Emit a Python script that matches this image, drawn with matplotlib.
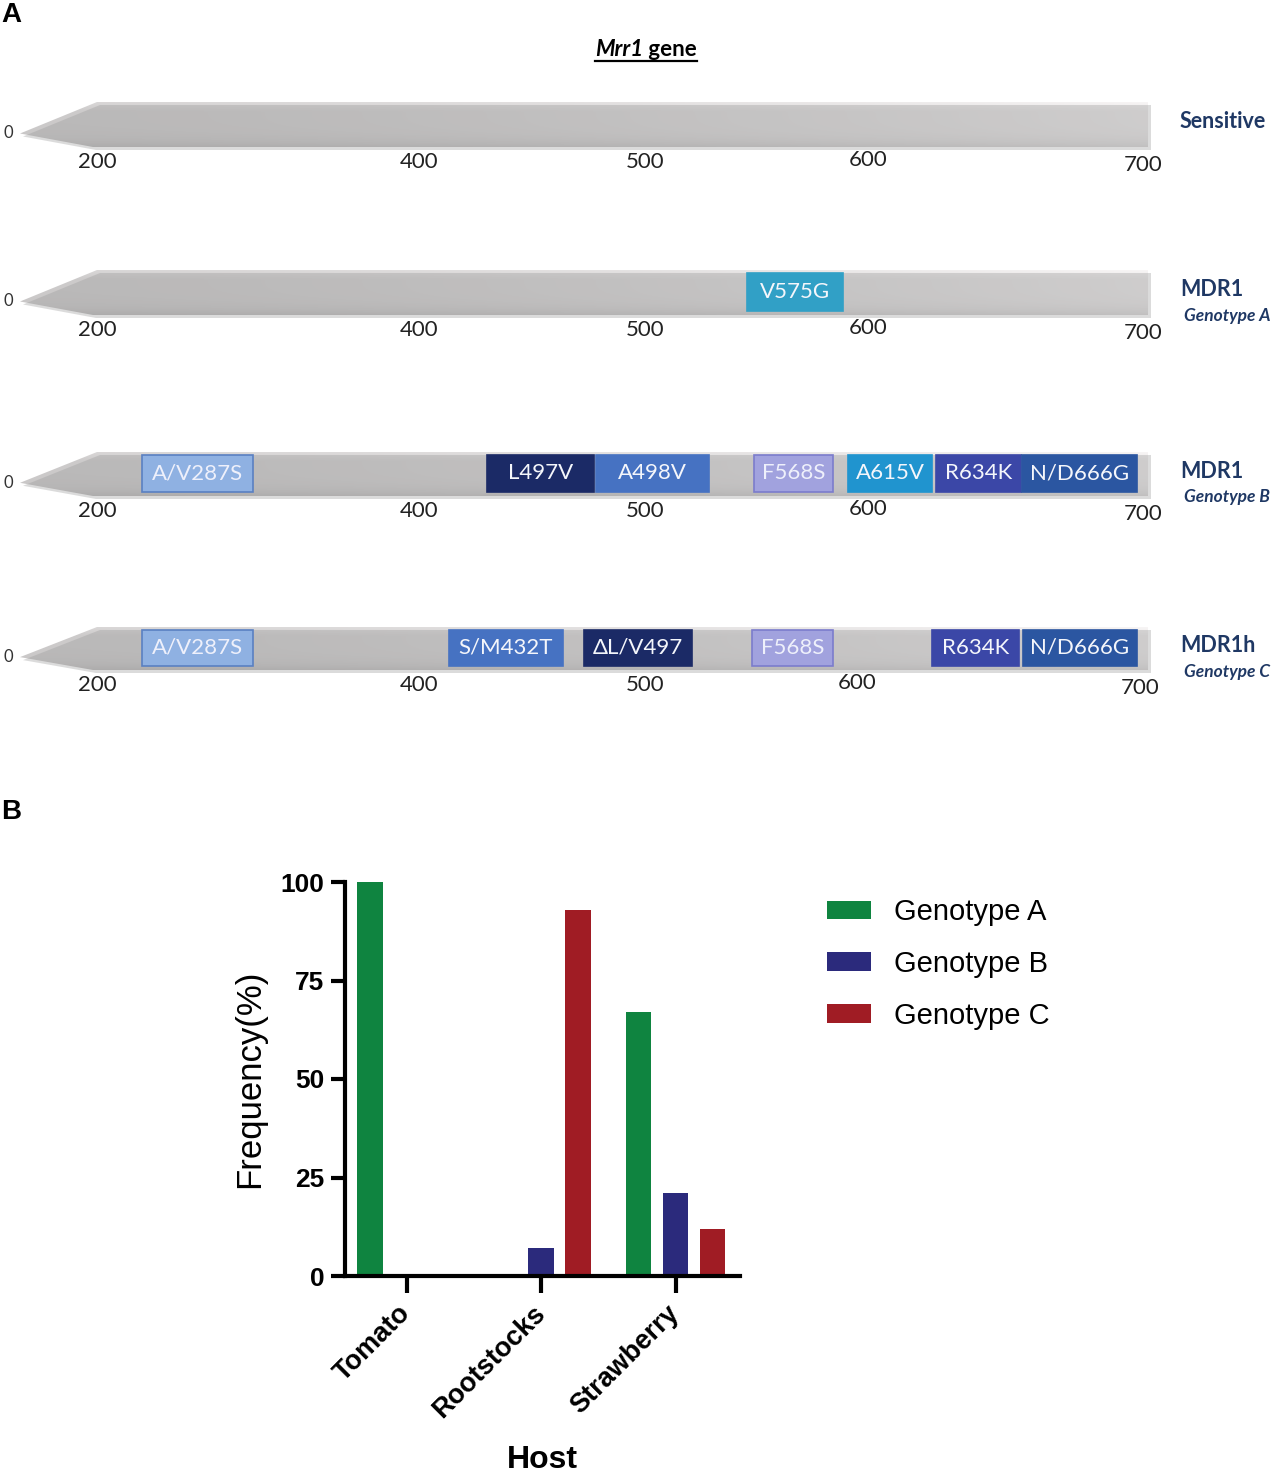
import numpy as np
import matplotlib.pyplot as plt
from matplotlib.patches import Polygon, Rectangle

# ---- panel A data: gene schematics ----
row_names = ["Sensitive", "MDR1", "MDR1", "MDR1h"]
row_tags = ["", "Genotype A", "Genotype B", "Genotype C"]
scale_labels = ["0", "200", "400", "500", "600", "700"]
# schematic position of each scale mark along the drawn gene (per row)
scale_marks = [
    [8, 97, 419, 645, 868, 1143],
    [8, 97, 419, 645, 868, 1143],
    [8, 97, 419, 645, 868, 1143],
    [8, 97, 419, 645, 857, 1140],
]

mut_sens = []
span_sens = []
mut_a = ["V575G"]
span_a = [(747, 843)]
mut_b = ["A/V287S", "L497V", "A498V", "F568S", "A615V", "R634K", "N/D666G"]
span_b = [(142, 253), (487, 594), (596, 709), (754, 833), (848, 932), (936, 1021), (1022, 1137)]
mut_c = ["A/V287S", "S/M432T", "ΔL/V497", "F568S", "R634K", "N/D666G"]
span_c = [(142, 253), (449, 563), (584, 692), (752, 833), (932, 1019), (1023, 1137)]

# ---- panel B data: genotype frequency per host ----
hosts = ["Tomato", "Rootstocks", "Strawberry"]
genotypes = ["Genotype A", "Genotype B", "Genotype C"]
freq_a = [100, 0, 67]
freq_b = [0, 7, 21]
freq_c = [0, 93, 12]

mut_colors = {
    "V575G": ("#31a0c6", "#31a0c6"),
    "A/V287S": ("#8fb1e2", "#5a80c2"),
    "L497V": ("#1b2a66", "#1b2a66"),
    "ΔL/V497": ("#1b2a66", "#1b2a66"),
    "A498V": ("#4672c2", "#4672c2"),
    "S/M432T": ("#4672c2", "#4672c2"),
    "F568S": ("#a1a2de", "#7b7ccc"),
    "A615V": ("#2094cf", "#2094cf"),
    "R634K": ("#3b47a7", "#3b47a7"),
    "N/D666G": ("#2b56a1", "#2b56a1"),
}
geno_colors = ["#0f8440", "#2b2a7c", "#a01c24"]
navy = "#1f3864"

calibri = ["Lato", "DejaVu Sans"]
arial = ["Liberation Sans", "DejaVu Sans"]

W, H = 1285, 1476
fig = plt.figure(figsize=(W / 100, H / 100), dpi=100)

# panel A axis in schematic units (y grows downward)
top_h = 760
ax_a = fig.add_axes([0, 1 - top_h / H, 1, top_h / H])
ax_a.set_xlim(0, W)
ax_a.set_ylim(top_h, 0)
ax_a.axis("off")

bar_top = [102, 270, 452, 627]
bar_bot = [147, 315, 496, 670]
rows = [(mut_sens, span_sens), (mut_a, span_a), (mut_b, span_b), (mut_c, span_c)]

# grey gradient for the gene body
nx, ny = 300, 60
gx = np.linspace(0, 1, nx)
gy = np.linspace(0, 1, ny)
horiz = 0.80 + 0.12 * gx ** 1.5
vert = 0.05 * np.clip(1 - gy / 0.2, 0, 1) - 0.08 * gy ** 6
val = np.clip(horiz[None, :] + vert[:, None], 0, 1)
grad = np.dstack([val, val * 0.99, val * 0.99])

x_tip, x_full, x_end = 20, 97, 1148
for i, (muts, spans) in enumerate(rows):
    t, b = bar_top[i], bar_bot[i]
    tip_y = t + 0.7 * (b - t)
    pts = [(x_tip, tip_y), (x_full, t), (x_end, t), (x_end, b), (x_full - 4, b)]
    shadow = Polygon([(x + 3, y + 3) for x, y in pts], closed=True,
                     facecolor="#9a9a9a", edgecolor="none", alpha=0.35)
    ax_a.add_patch(shadow)
    body = Polygon(pts, closed=True, facecolor="none", edgecolor="none")
    ax_a.add_patch(body)
    im = ax_a.imshow(grad, extent=[x_tip, x_end, b, t], aspect="auto",
                     origin="upper", interpolation="bilinear")
    im.set_clip_path(body)

    for name, (s, e) in zip(muts, spans):
        fc, ec = mut_colors[name]
        ax_a.add_patch(Rectangle((s, t + 3), e - s, (b - t) - 7,
                                 facecolor=fc, edgecolor=ec, lw=1.2))
        tc = "#eef0fb" if name in ("F568S", "A/V287S") else "#f4f6fb"
        ax_a.text((s + e) / 2, (t + b) / 2 - 1, name, ha="center", va="center",
                  fontsize=16, color=tc, family=calibri)

    # scale numbers
    for lab, xm in zip(scale_labels, scale_marks[i]):
        if lab == "0":
            ax_a.text(xm, tip_y, lab, ha="center", va="center", fontsize=12,
                      color="#333333", family=calibri)
        else:
            dy = 3 if lab == "700" else (-2 if lab == "600" else 0)
            ax_a.text(xm, b + 15 + dy, lab, ha="center", va="center",
                      fontsize=16, color="#222222", family=calibri)

    # row labels
    name_y = (t + b) / 2 - 3
    ax_a.text(1180, name_y, row_names[i], ha="left", va="center", fontsize=15.5,
              fontweight="bold", color=navy, family=calibri)
    if row_tags[i]:
        ax_a.text(1184, name_y + 26, row_tags[i], ha="left", va="center",
                  fontsize=12.5, fontweight="bold", style="italic", color=navy,
                  family=calibri)

# title "Mrr1 gene" with underline
renderer = fig.canvas.get_renderer()
t1 = ax_a.text(0, 50, "Mrr1", ha="left", va="center", fontsize=16,
               fontweight="bold", style="italic", family=calibri)
t2 = ax_a.text(0, 50, " gene", ha="left", va="center", fontsize=16,
               fontweight="bold", family=calibri)
w1 = t1.get_window_extent(renderer).width
w2 = t2.get_window_extent(renderer).width
px_per_unit = ax_a.transData.transform((1, 0))[0] - ax_a.transData.transform((0, 0))[0]
total = (w1 + w2) / px_per_unit
x0 = 646 - total / 2
t1.set_x(x0)
t2.set_x(x0 + w1 / px_per_unit)
ax_a.plot([x0, x0 + total], [61, 61], color="black", lw=1.6)

fig.text(0.001, 1 - 15 / H, "A", ha="left", va="center", fontsize=20,
         fontweight="bold", family=arial)
fig.text(0.001, 1 - 812 / H, "B", ha="left", va="center", fontsize=20,
         fontweight="bold", family=arial)

# ---- panel B ----
ax_b = fig.add_axes([345 / W, 1 - 1276 / H, 395 / W, 394 / H])
x = np.arange(len(hosts))
offsets = [-0.275, 0, 0.275]
for k, (vals, lab) in enumerate(zip([freq_a, freq_b, freq_c], genotypes)):
    ax_b.bar(x + offsets[k], vals, width=0.19, color=geno_colors[k], label=lab)

ax_b.set_xlim(-0.46, 2.48)
ax_b.set_ylim(0, 100)
ax_b.set_yticks([0, 25, 50, 75, 100])
ax_b.set_xticks(x)
ax_b.set_xticklabels(hosts, rotation=45, ha="right", va="center",
                     rotation_mode="anchor", fontsize=19.5, fontweight="bold",
                     family=arial)
for lab in ax_b.get_yticklabels():
    lab.set_fontsize(19)
    lab.set_fontweight("bold")
    lab.set_family(arial)
for side in ["top", "right"]:
    ax_b.spines[side].set_visible(False)
for side in ["left", "bottom"]:
    ax_b.spines[side].set_linewidth(3)
ax_b.tick_params(axis="y", length=10, width=3, pad=5)
ax_b.tick_params(axis="x", length=12, width=3, pad=12)
ax_b.set_ylabel("Frequency(%)", fontsize=25, family=arial, labelpad=10)
ax_b.set_xlabel("Host", fontsize=23, fontweight="bold", family=arial, labelpad=16)

ax_b.legend(loc="upper left", bbox_to_anchor=(801 / W, 1 - 872 / H),
            bbox_transform=fig.transFigure, frameon=False,
            handlelength=1.5, handleheight=0.62, handletextpad=0.8,
            labelspacing=0.82, prop={"family": arial, "size": 21})

fig.savefig("out.png", dpi=100)
